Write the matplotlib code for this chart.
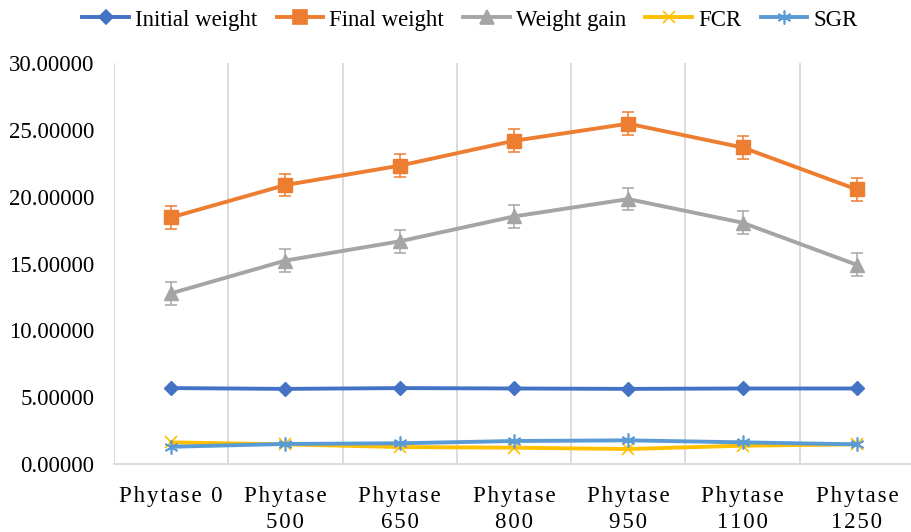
import matplotlib
matplotlib.use("Agg")
import matplotlib.pyplot as plt
from matplotlib.lines import Line2D

plt.rcParams['font.family'] = ['Liberation Serif', 'DejaVu Serif']

# Treatments (phytase level) and measured values
categories = ["Phytase 0", "Phytase 500", "Phytase 650", "Phytase 800",
              "Phytase 950", "Phytase 1100", "Phytase 1250"]
initial_weight = [5.68, 5.62, 5.68, 5.65, 5.62, 5.65, 5.65]
final_weight = [18.45, 20.87, 22.32, 24.18, 25.46, 23.68, 20.54]
weight_gain = [12.77, 15.22, 16.66, 18.52, 19.82, 18.05, 14.90]
fcr = [1.62, 1.47, 1.27, 1.22, 1.12, 1.37, 1.47]
sgr = [1.29, 1.50, 1.55, 1.72, 1.77, 1.62, 1.47]
final_err = 0.85
gain_err = 0.85
fcr_err = 0.06

y_ticks = [0, 5, 10, 15, 20, 25, 30]

series_names = ["Initial weight", "Final weight", "Weight gain", "FCR", "SGR"]
colors = ["#4472C4", "#ED7D31", "#A5A5A5", "#FFC000", "#5B9BD5"]
markers = ["D", "s", "^", "x", (6, 2, 0)]
msizes = [7.5, 9.5, 10, 9, 10]


def spaced(label):
    # Excel stretches the category labels a little; mimic with hair spaces
    words = label.split(" ")
    if words[1] == "0":
        return "\u200a".join("Phytase 0")
    return "\u200a".join(words[0]) + "\n" + "\u200a".join(words[1])


fig = plt.figure(figsize=(9.12, 5.32), dpi=100)
ax = fig.add_axes([114 / 912, 68 / 532, 800 / 912, 401 / 532])

x = list(range(len(categories)))
lw = 2.8

ax.plot(x, initial_weight, color=colors[0], lw=lw, marker=markers[0],
        ms=msizes[0], zorder=3)
ax.errorbar(x, final_weight, yerr=final_err, color=colors[1], lw=lw,
            marker=markers[1], ms=msizes[1], elinewidth=1.1, capsize=4,
            capthick=1.1, zorder=3)
ax.errorbar(x, weight_gain, yerr=gain_err, color=colors[2], lw=lw,
            marker=markers[2], ms=msizes[2], elinewidth=1.1, capsize=4,
            capthick=1.1, zorder=3)
ax.errorbar(x, fcr, yerr=fcr_err, color=colors[3], lw=lw, marker=markers[3],
            ms=msizes[3], mew=1.2, ecolor="black", elinewidth=1, capsize=1.5,
            zorder=3)
ax.plot(x, sgr, color=colors[4], lw=lw, marker=markers[4], ms=msizes[4],
        mew=1.2, zorder=4)

ax.set_xlim(-0.5, len(categories) - 0.5)
ax.set_ylim(0, 30)
ax.set_yticks(y_ticks)
ax.set_yticklabels([f"{v:.5f}" for v in y_ticks], fontsize=16.5)
ax.set_xticks(x)
ax.set_xticklabels([spaced(c) for c in categories], fontsize=16.5,
                   linespacing=1.3, va="top")
ax.tick_params(axis="both", length=0)
ax.tick_params(axis="y", pad=14)
ax.tick_params(axis="x", pad=16)

# vertical grid lines between categories
for b in range(len(categories)):
    ax.axvline(b - 0.5, color="#D9D9D9", lw=1.3, zorder=1)

for side in ["top", "right", "left"]:
    ax.spines[side].set_visible(False)
ax.spines["bottom"].set_color("#D9D9D9")
ax.spines["bottom"].set_linewidth(1.3)

handles = [Line2D([], [], color=c, lw=lw, marker=m, ms=s, mew=1.2)
           for c, m, s in zip(colors, markers, msizes)]
fig.legend(handles, series_names, loc="center",
           bbox_to_anchor=(470 / 912, 1 - 20 / 532), ncol=5, frameon=False,
           fontsize=16.5, handlelength=2.05, handletextpad=0.26,
           columnspacing=0.83, borderaxespad=0)

fig.savefig("out.png", dpi=100)
